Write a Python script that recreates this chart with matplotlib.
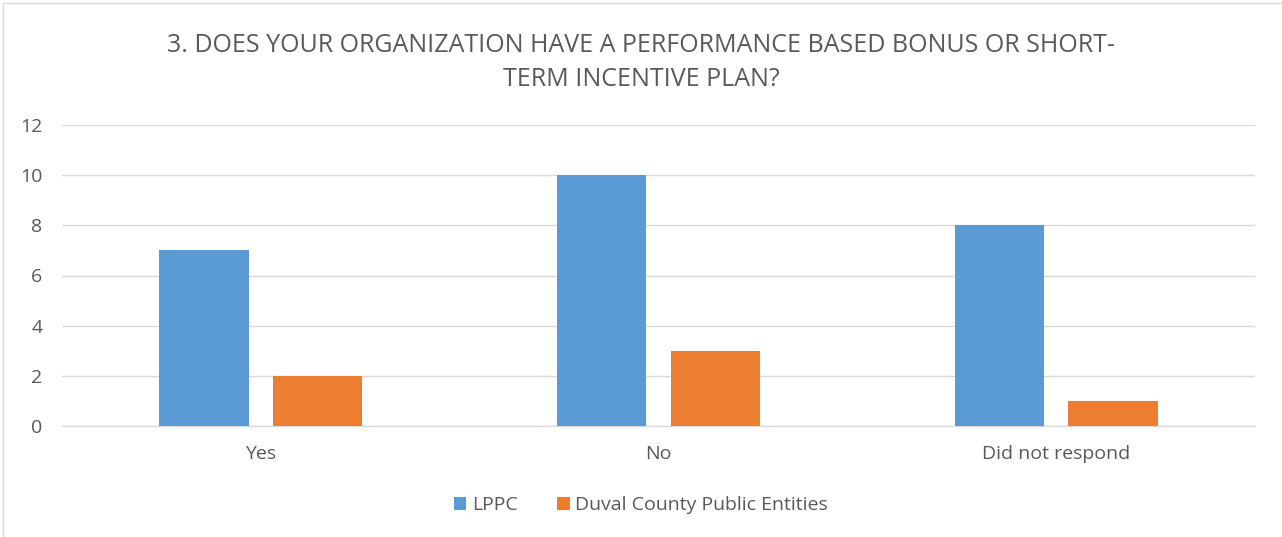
import numpy as np
from matplotlib import pyplot as plt
from matplotlib.patches import Rectangle

# ---DATA---
categories = ["Yes", "No", "Did not respond"]
lppc = [7, 10, 8]
duval = [2, 3, 1]
series_names = ["LPPC", "Duval County Public Entities"]
y_ticks = [0, 2, 4, 6, 8, 10, 12]

plt.rcParams['font.family'] = ['Open Sans', 'DejaVu Sans']
text_color = '#595959'

fig = plt.figure(figsize=(12.82, 5.37), dpi=100)
ax = fig.add_axes([62 / 1282, 1 - 426 / 537, (1255 - 62) / 1282, (426 - 125) / 537])

x = np.arange(len(categories))
width = 0.224
offset = 0.143
ax.bar(x - offset, lppc, width, color='#5B9BD5', label=series_names[0], zorder=3)
ax.bar(x + offset, duval, width, color='#ED7D31', label=series_names[1], zorder=3)

ax.set_xlim(-0.5, len(categories) - 0.5)
ax.set_ylim(0, 12)
ax.set_yticks(y_ticks)
ax.set_xticks(x)
ax.set_xticklabels(categories)
ax.tick_params(axis='both', length=0, labelsize=14, colors=text_color)
ax.tick_params(axis='y', pad=14)
ax.tick_params(axis='x', pad=14)
ax.grid(axis='y', color='#D9D9D9', linewidth=1, zorder=0)
for side in ['top', 'right', 'left']:
    ax.spines[side].set_visible(False)
ax.spines['bottom'].set_color('#D9D9D9')
ax.spines['bottom'].set_linewidth(1)

fig.text(0.5, 1 - 45 / 537, "3. DOES YOUR ORGANIZATION HAVE A PERFORMANCE BASED BONUS OR SHORT-",
         ha='center', va='center', fontsize=18, color=text_color)
fig.text(0.5, 1 - 79 / 537, "TERM INCENTIVE PLAN?",
         ha='center', va='center', fontsize=18, color=text_color)

fig.legend(loc='center', bbox_to_anchor=(0.5, 1 - 505 / 537), ncol=2, frameon=False,
           fontsize=14, labelcolor=text_color, handlelength=0.65, handleheight=0.65,
           handletextpad=0.3, columnspacing=2.0)

# chart border
fig.patches.append(Rectangle((3 / 1282, -0.01), 1.02, 1 - 3 / 537 + 0.01,
                             transform=fig.transFigure, fill=False,
                             edgecolor='#D9D9D9', linewidth=1))

fig.savefig('out.png', dpi=100)
